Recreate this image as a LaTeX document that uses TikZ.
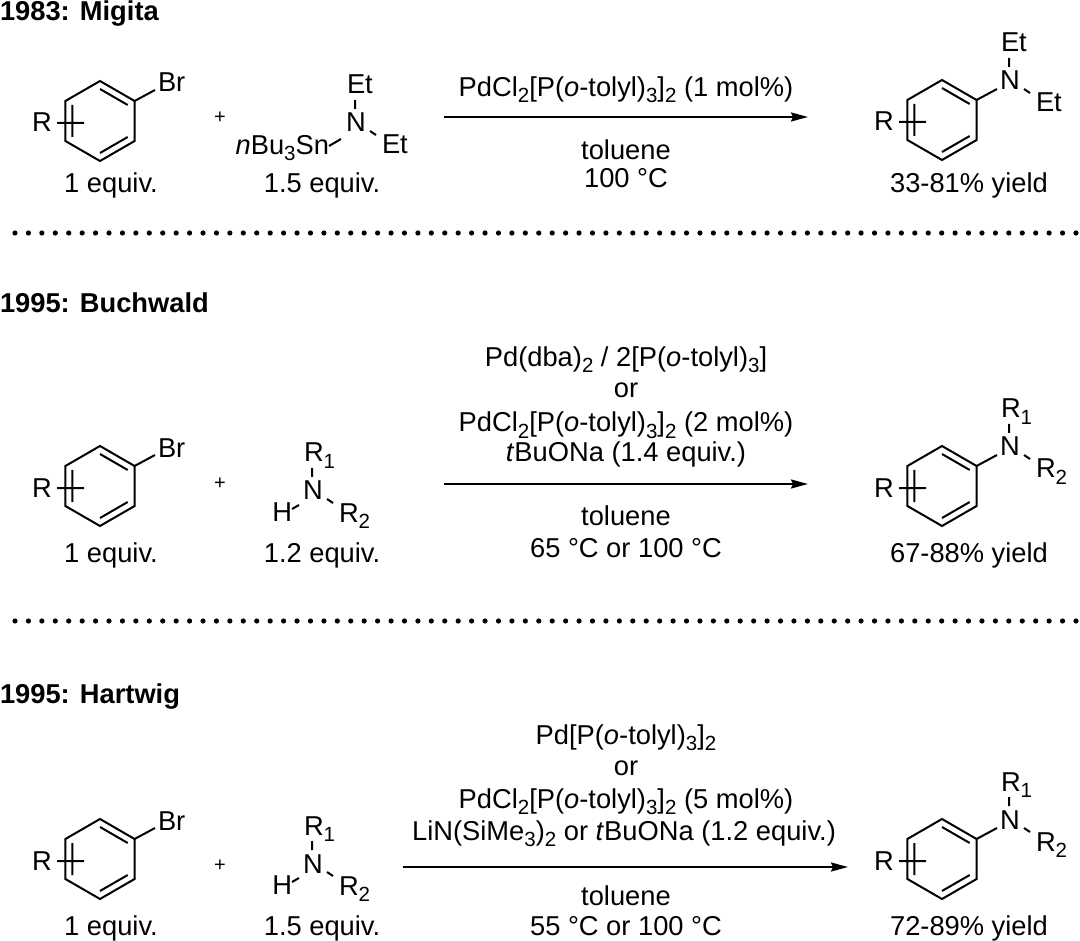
\documentclass[tikz,border=0pt]{standalone}
\usepackage{fontspec}
\setmainfont{Liberation Sans}
\usetikzlibrary{arrows.meta,positioning}
\newcommand{\chsub}[1]{\raisebox{-6pt}{\fontsize{20.5}{20}\selectfont #1}}

\begin{document}
\begin{tikzpicture}[x=1pt, y=-1pt, font=\fontsize{27.3}{32}\selectfont,
	lbl/.style={inner sep=0pt, outer sep=0pt},
	bond/.style={line width=2pt},
	rxn/.style={line width=2pt, -{Stealth[length=17pt,width=9pt,inset=2pt]}},
	cond/.style={lbl, anchor=base},
	head/.style={lbl, anchor=base west, font=\fontsize{27.3}{32}\selectfont\bfseries},
	plus/.style={lbl, font=\fontsize{20}{20}\selectfont},
	pics/arene/.style={code={
		\coordinate (-t) at (0,-40); \coordinate (-ur) at (34.6,-20); \coordinate (-lr) at (34.6,20);
		\coordinate (-b) at (0,40); \coordinate (-ll) at (-34.6,20); \coordinate (-ul) at (-34.6,-20);
		\draw[bond] (-t) -- (-ur) -- (-lr) -- (-b) -- (-ll) -- (-ul) -- cycle;
		\draw[bond] (0,-32) -- (27.7,-16) (27.7,16) -- (0,32) (-27.7,16) -- (-27.7,-16);
		\node[lbl, anchor=base west] (-r) at (-68,11) {R};
		\coordinate (-ra) at (-43,2); \coordinate (-rb) at (-16,2);
		\coordinate (-xa) at (55,-31);
		\draw[bond] (-ra) -- (-rb) (-ur) -- (-xa);}},
	pics/nsub/.style 2 args={code={
		\node[lbl, anchor=base west] (-up) at (1,-38) {#1};
		\node[lbl, anchor=base west] (-dn) at (36,22) {#2};
		\coordinate (-u1) at (9,-32); \coordinate (-u2) at (9,-23);
		\coordinate (-d1) at (24,-1); \coordinate (-d2) at (30,3);
		\draw[bond] (-u1) -- (-u2) (-d1) -- (-d2);}}]
	\useasboundingbox (0,0) rectangle (1080,941);
	% 1983: Migita
	\node[head] (h1) at (0,21) {1983: Migita};
	\pic (sm1) at (100,121) {arene};
	\node[lbl, anchor=base west] (br1) at (158,92) {Br};
	\node[plus] (p1) at (220,118) {+};
	\node[lbl, anchor=base west] (n1) at (346,132) {N};
	\pic (am1) at (n1.base west) {nsub={Et}{Et}};
	\node[lbl, anchor=base east] (sn1) at (329,155) {\textit{n}Bu\chsub{3}Sn};
	\coordinate (sna1) at (329,146); \coordinate (snb1) at (341,139);
	\draw[bond] (sna1) -- (snb1);
	\node[lbl, anchor=base] (eqa1) at (111,193) {1 equiv.};
	\node[lbl, anchor=base] (eqb1) at (322,193) {1.5 equiv.};
	\coordinate (as1) at (444,117); \coordinate (ae1) at (808,117);
	\draw[rxn] (as1) -- (ae1);
	\node[cond] (ca1) at (626,97) {PdCl\chsub{2}[P(\textit{o}-tolyl)\chsub{3}]\chsub{2} (1 mol\%)};
	\node[cond] (cb1) at (626,160) {toluene};
	\node[cond] (cc1) at (626,188) {100 °C};
	\pic (pr1) at (942,120) {arene};
	\node[lbl, anchor=base west] (np1) at (1000,90) {N};
	\pic (ps1) at (np1.base west) {nsub={Et}{Et}};
	\node[lbl, anchor=base] (y1) at (969,193) {33-81\% yield};
	\foreach \k in {0,...,79} \fill ({15+\k*13.43},233) circle (2.6pt);
	% 1995: Buchwald / Hartwig
	\node[head] (h2) at (0,313) {1995: Buchwald};
	\node[head] (h3) at (0,703) {1995: Hartwig};
	\foreach \i/\c/\pl/\eq/\yl in {2/486/484/1.2/67-88, 3/859/866/1.5/72-89}{
		\pic (sm\i) at (100,\c) {arene};
		\node[lbl, anchor=base west] (br\i) at (158,\c-29) {Br};
		\node[plus] (p\i) at (220,\pl) {+};
		\node[lbl, anchor=base west] (n\i) at (303,\c+14) {N};
		\pic (am\i) at (n\i.base west) {nsub={R\chsub{1}}{R\chsub{2}}};
		\node[lbl, anchor=base east] (hh\i) at (292,\c+35) {H};
		\coordinate (ha\i) at (292,\c+23); \coordinate (hb\i) at (299,\c+19);
		\draw[bond] (ha\i) -- (hb\i);
		\node[lbl, anchor=base] (eqa\i) at (111,\c+76) {1 equiv.};
		\node[lbl, anchor=base] (eqb\i) at (322,\c+76) {\eq\ equiv.};
		\pic (pr\i) at (942,\c) {arene};
		\node[lbl, anchor=base west] (np\i) at (1000,\c-30) {N};
		\pic (ps\i) at (np\i.base west) {nsub={R\chsub{1}}{R\chsub{2}}};
		\node[lbl, anchor=base] (y\i) at (969,\c+76) {\yl\% yield};}
	\coordinate (as2) at (444,484); \coordinate (ae2) at (808,484);
	\draw[rxn] (as2) -- (ae2);
	\node[cond] (ca2) at (626,367) {Pd(dba)\chsub{2} / 2[P(\textit{o}-tolyl)\chsub{3}]};
	\node[cond] (cb2) at (626,398) {or};
	\node[cond] (cc2) at (626,432) {PdCl\chsub{2}[P(\textit{o}-tolyl)\chsub{3}]\chsub{2} (2 mol\%)};
	\node[cond] (cd2) at (626,462) {\textit{t}BuONa (1.4 equiv.)};
	\node[cond] (ce2) at (626,525) {toluene};
	\node[cond] (cf2) at (626,557) {65 °C or 100 °C};
	\foreach \k in {0,...,79} \fill ({15+\k*13.43},621) circle (2.6pt);
	\coordinate (as3) at (403,867); \coordinate (ae3) at (848,867);
	\draw[rxn] (as3) -- (ae3);
	\node[cond] (ca3) at (626,744) {Pd[P(\textit{o}-tolyl)\chsub{3}]\chsub{2}};
	\node[cond] (cb3) at (626,775) {or};
	\node[cond] (cc3) at (626,808) {PdCl\chsub{2}[P(\textit{o}-tolyl)\chsub{3}]\chsub{2} (5 mol\%)};
	\node[cond] (cd3) at (624,840) {LiN(SiMe\chsub{3})\chsub{2} or \textit{t}BuONa (1.2 equiv.)};
	\node[cond] (ce3) at (626,905) {toluene};
	\node[cond] (cf3) at (626,935) {55 °C or 100 °C};
\end{tikzpicture}
\end{document}
